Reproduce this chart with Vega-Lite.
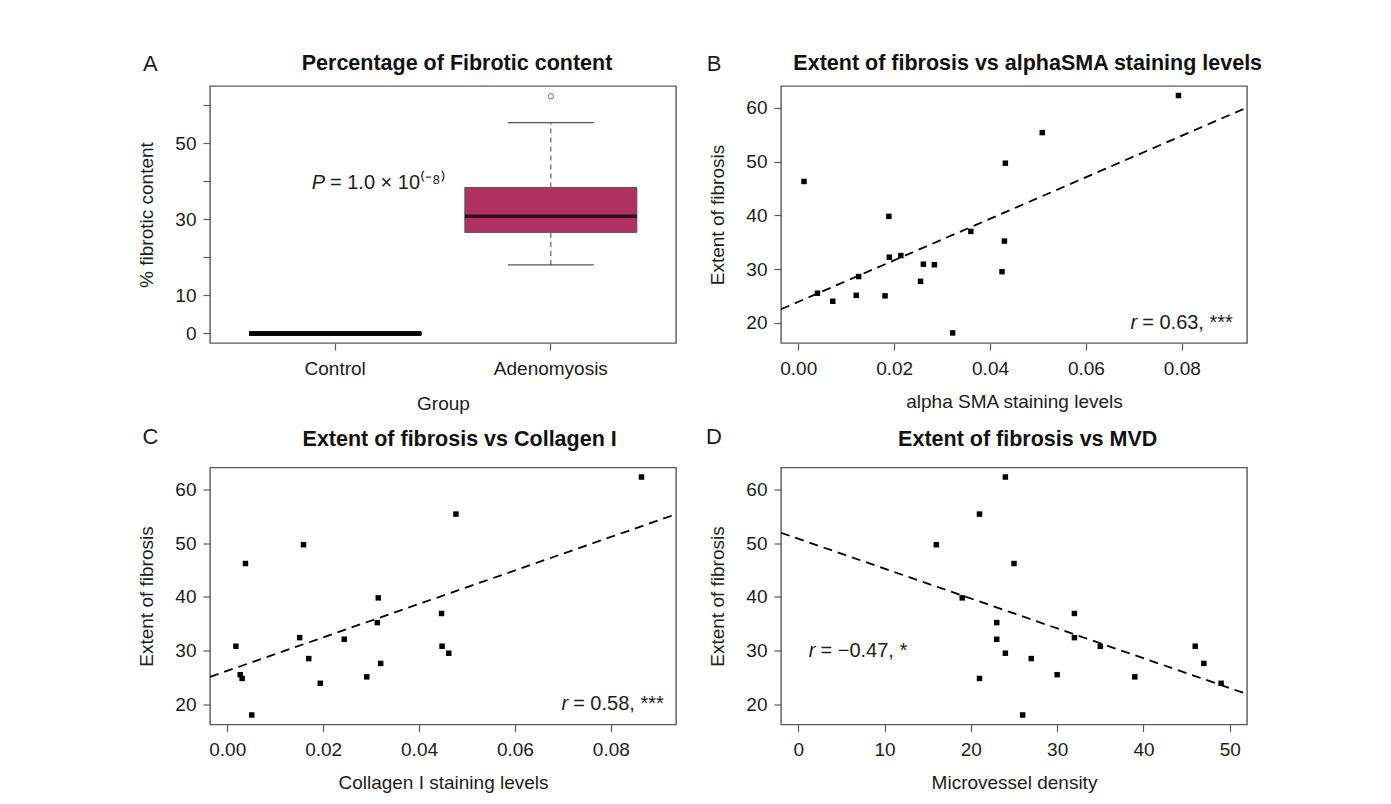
{
  "$schema": "https://vega.github.io/schema/vega-lite/v6.json",
  "background": "white",
  "padding": {"left": 137, "top": 52, "right": 0, "bottom": 0},
  "autosize": {"type": "pad"},
  "config": {
    "font": "Liberation Sans",
    "view": {"stroke": "#5a5a5a", "strokeWidth": 1.4},
    "axis": {"domain": false, "grid": false, "ticks": true, "tickColor": "#5a5a5a", "tickWidth": 1.2, "tickSize": 7, "labelFont": "Liberation Sans", "labelFontSize": 19, "labelColor": "#1c1c1c", "labelPadding": 7, "labelFlush": false, "labelOverlap": false, "titleFont": "Liberation Sans", "titleFontSize": 19, "titleFontWeight": "normal", "titleColor": "#1c1c1c", "zindex": 1},
    "axisX": {"labelPadding": 9},
    "text": {"font": "Liberation Sans", "fontSize": 20, "color": "#1c1c1c"}
  },
  "datasets": {
    "fibrotic": [
      {"group": "Control", "pct": 0}, {"group": "Control", "pct": 0}, {"group": "Control", "pct": 0}, {"group": "Control", "pct": 0}, {"group": "Control", "pct": 0},
      {"group": "Control", "pct": 0}, {"group": "Control", "pct": 0}, {"group": "Control", "pct": 0}, {"group": "Control", "pct": 0}, {"group": "Control", "pct": 0},
      {"group": "Adenomyosis", "pct": 62.3}, {"group": "Adenomyosis", "pct": 55.4}, {"group": "Adenomyosis", "pct": 49.7}, {"group": "Adenomyosis", "pct": 46.2},
      {"group": "Adenomyosis", "pct": 39.8}, {"group": "Adenomyosis", "pct": 36.9}, {"group": "Adenomyosis", "pct": 35.2}, {"group": "Adenomyosis", "pct": 32.4},
      {"group": "Adenomyosis", "pct": 32.1}, {"group": "Adenomyosis", "pct": 30.8}, {"group": "Adenomyosis", "pct": 30.8}, {"group": "Adenomyosis", "pct": 29.5},
      {"group": "Adenomyosis", "pct": 28.5}, {"group": "Adenomyosis", "pct": 27.6}, {"group": "Adenomyosis", "pct": 25.5}, {"group": "Adenomyosis", "pct": 25.1},
      {"group": "Adenomyosis", "pct": 24.8}, {"group": "Adenomyosis", "pct": 23.9}, {"group": "Adenomyosis", "pct": 18.0}
    ],
    "sma": [
      {"sma": 0.0793, "fib": 62.3}, {"sma": 0.0509, "fib": 55.4}, {"sma": 0.0432, "fib": 49.7}, {"sma": 0.0012, "fib": 46.3},
      {"sma": 0.0189, "fib": 39.8}, {"sma": 0.0360, "fib": 37.0}, {"sma": 0.0430, "fib": 35.2}, {"sma": 0.0190, "fib": 32.2},
      {"sma": 0.0214, "fib": 32.5}, {"sma": 0.0261, "fib": 30.9}, {"sma": 0.0284, "fib": 30.8}, {"sma": 0.0126, "fib": 28.6},
      {"sma": 0.0425, "fib": 29.5}, {"sma": 0.0255, "fib": 27.7}, {"sma": 0.0040, "fib": 25.5}, {"sma": 0.0121, "fib": 25.1},
      {"sma": 0.0181, "fib": 25.0}, {"sma": 0.0072, "fib": 24.0}, {"sma": 0.0322, "fib": 18.1}
    ],
    "col": [
      {"col": 0.0864, "fib": 62.3}, {"col": 0.0477, "fib": 55.4}, {"col": 0.0159, "fib": 49.7}, {"col": 0.0038, "fib": 46.2},
      {"col": 0.0315, "fib": 39.8}, {"col": 0.0447, "fib": 36.9}, {"col": 0.0313, "fib": 35.2}, {"col": 0.0151, "fib": 32.4},
      {"col": 0.0244, "fib": 32.1}, {"col": 0.0018, "fib": 30.8}, {"col": 0.0448, "fib": 30.8}, {"col": 0.0462, "fib": 29.5},
      {"col": 0.0170, "fib": 28.5}, {"col": 0.0320, "fib": 27.6}, {"col": 0.0027, "fib": 25.5}, {"col": 0.0031, "fib": 24.8},
      {"col": 0.0291, "fib": 25.1}, {"col": 0.0194, "fib": 23.9}, {"col": 0.0051, "fib": 18.0}
    ],
    "mvd": [
      {"mvd": 24, "fib": 62.3}, {"mvd": 21, "fib": 55.4}, {"mvd": 16, "fib": 49.7}, {"mvd": 25, "fib": 46.2},
      {"mvd": 19, "fib": 39.8}, {"mvd": 32, "fib": 36.9}, {"mvd": 23, "fib": 35.2}, {"mvd": 23, "fib": 32.1},
      {"mvd": 32, "fib": 32.4}, {"mvd": 35, "fib": 30.8}, {"mvd": 46, "fib": 30.8}, {"mvd": 24, "fib": 29.5},
      {"mvd": 27, "fib": 28.5}, {"mvd": 47, "fib": 27.6}, {"mvd": 30, "fib": 25.5}, {"mvd": 21, "fib": 24.8},
      {"mvd": 39, "fib": 25.1}, {"mvd": 49, "fib": 23.9}, {"mvd": 26, "fib": 18.0}
    ]
  },
  "columns": 2,
  "spacing": {"row": 124.5, "column": 105},
  "bounds": "flush",
  "concat": [
    {
      "width": 466, "height": 257,
      "resolve": {"scale": {"x": "independent"}},
      "layer": [
        {
          "data": {"name": "fibrotic"},
          "layer": [
            {
              "transform": [{"filter": "datum.group == 'Adenomyosis'"}],
              "mark": {"type": "boxplot", "extent": 1.5, "size": 172,
                "box": {"color": "#B03060", "stroke": "#555555", "strokeWidth": 1},
                "median": {"color": "black", "thickness": 3.5},
                "rule": {"color": "#555555", "strokeDash": [5, 4], "strokeWidth": 1.1},
                "ticks": {"color": "#555555", "size": 86, "thickness": 1.2},
                "outliers": {"color": "#333333", "size": 28, "strokeWidth": 1}},
              "encoding": {
                "x": {"field": "group", "type": "nominal",
                  "scale": {"domain": ["Control", "Adenomyosis"], "paddingInner": 0, "paddingOuter": 0.0802},
                  "axis": {"title": "Group", "labelAngle": 0, "titlePadding": 16}},
                "y": {"field": "pct", "type": "quantitative",
                  "scale": {"domain": [-2.5, 65], "nice": false, "zero": false},
                  "axis": {"title": "% fibrotic content", "values": [0, 10, 20, 30, 40, 50, 60],
                    "labelExpr": "datum.value == 20 || datum.value == 40 || datum.value == 60 ? '' : datum.label", "titlePadding": 18}}
              }
            },
            {
              "transform": [{"filter": "datum.group == 'Control'"}],
              "mark": {"type": "tick", "color": "black", "size": 172, "thickness": 3.5, "opacity": 1},
              "encoding": {
                "x": {"field": "group", "type": "nominal"},
                "y": {"field": "pct", "type": "quantitative"}
              }
            }
          ]
        },
        {
          "data": {"values": [{}]},
          "layer": [
            {"mark": {"type": "text", "text": "P", "fontStyle": "italic", "align": "right", "baseline": "middle", "fontSize": 20},
             "encoding": {"x": {"datum": 0.953, "type": "quantitative", "scale": {"domain": [0.42, 2.58], "nice": false, "zero": false}, "axis": null},
                          "y": {"datum": 39.5, "type": "quantitative"}}},
            {"mark": {"type": "text", "text": "= 1.0 \u00d7 10\u207d\u207b\u2078\u207e", "align": "left", "baseline": "middle", "fontSize": 20, "dx": 5},
             "encoding": {"x": {"datum": 0.953, "type": "quantitative"},
                          "y": {"datum": 39.5, "type": "quantitative"}}},
            {"mark": {"type": "text", "text": "A", "align": "center", "baseline": "alphabetic", "fontSize": 22},
             "encoding": {"x": {"datum": 0.144, "type": "quantitative"},
                          "y": {"datum": 68.94, "type": "quantitative"}}},
            {"mark": {"type": "text", "text": "Percentage of Fibrotic content", "align": "center", "baseline": "alphabetic", "fontSize": 21.5, "fontWeight": "bold", "color": "#111111"},
             "encoding": {"x": {"datum": 1.565, "type": "quantitative"},
                          "y": {"datum": 69.12, "type": "quantitative"}}}
          ]
        }
      ]
    },
    {
      "width": 466, "height": 257,
      "layer": [
        {
          "data": {"name": "sma"},
          "mark": {"type": "square", "size": 30, "color": "black", "opacity": 1},
          "encoding": {
            "x": {"field": "sma", "type": "quantitative",
              "scale": {"domain": [-0.0036, 0.0936], "nice": false, "zero": false},
              "axis": {"title": "alpha SMA staining levels", "values": [0, 0.02, 0.04, 0.06, 0.08], "format": ".2f", "titlePadding": 14}},
            "y": {"field": "fib", "type": "quantitative",
              "scale": {"domain": [16.228, 64.072], "nice": false, "zero": false},
              "axis": {"title": "Extent of fibrosis", "values": [20, 30, 40, 50, 60], "titlePadding": 18}}
          }
        },
        {
          "data": {"name": "sma"},
          "transform": [{"regression": "fib", "on": "sma", "extent": [-0.0036, 0.0936]}],
          "mark": {"type": "line", "color": "black", "strokeDash": [9, 6], "strokeWidth": 1.8, "clip": true},
          "encoding": {
            "x": {"field": "sma", "type": "quantitative"},
            "y": {"field": "fib", "type": "quantitative"}
          }
        },
        {
          "data": {"values": [{}]},
          "layer": [
            {"mark": {"type": "text", "text": "r", "fontStyle": "italic", "align": "right", "baseline": "middle"},
             "encoding": {"x": {"datum": 0.0707, "type": "quantitative"}, "y": {"datum": 20, "type": "quantitative"}}},
            {"mark": {"type": "text", "text": "= 0.63, ***", "align": "left", "baseline": "middle", "dx": 5},
             "encoding": {"x": {"datum": 0.0707, "type": "quantitative"}, "y": {"datum": 20, "type": "quantitative"}}},
            {"mark": {"type": "text", "text": "B", "align": "center", "baseline": "alphabetic", "fontSize": 22},
             "encoding": {"x": {"datum": -0.01758, "type": "quantitative"}, "y": {"datum": 66.864, "type": "quantitative"}}},
            {"mark": {"type": "text", "text": "Extent of fibrosis vs alphaSMA staining levels", "align": "center", "baseline": "alphabetic", "fontSize": 21.5, "fontWeight": "bold", "color": "#111111"},
             "encoding": {"x": {"datum": 0.04786, "type": "quantitative"}, "y": {"datum": 66.995, "type": "quantitative"}}}
          ]
        }
      ]
    },
    {
      "width": 466, "height": 257,
      "layer": [
        {
          "data": {"name": "col"},
          "mark": {"type": "square", "size": 30, "color": "black", "opacity": 1},
          "encoding": {
            "x": {"field": "col", "type": "quantitative",
              "scale": {"domain": [-0.0036, 0.0936], "nice": false, "zero": false},
              "axis": {"title": "Collagen I staining levels", "values": [0, 0.02, 0.04, 0.06, 0.08], "format": ".2f", "titlePadding": 14}},
            "y": {"field": "fib", "type": "quantitative",
              "scale": {"domain": [16.228, 64.072], "nice": false, "zero": false},
              "axis": {"title": "Extent of fibrosis", "values": [20, 30, 40, 50, 60], "titlePadding": 18}}
          }
        },
        {
          "data": {"name": "col"},
          "transform": [{"regression": "fib", "on": "col", "extent": [-0.0036, 0.0936]}],
          "mark": {"type": "line", "color": "black", "strokeDash": [9, 6], "strokeWidth": 1.8, "clip": true},
          "encoding": {
            "x": {"field": "col", "type": "quantitative"},
            "y": {"field": "fib", "type": "quantitative"}
          }
        },
        {
          "data": {"values": [{}]},
          "layer": [
            {"mark": {"type": "text", "text": "r", "fontStyle": "italic", "align": "right", "baseline": "middle"},
             "encoding": {"x": {"datum": 0.0711, "type": "quantitative"}, "y": {"datum": 20, "type": "quantitative"}}},
            {"mark": {"type": "text", "text": "= 0.58, ***", "align": "left", "baseline": "middle", "dx": 5},
             "encoding": {"x": {"datum": 0.0711, "type": "quantitative"}, "y": {"datum": 20, "type": "quantitative"}}},
            {"mark": {"type": "text", "text": "C", "align": "center", "baseline": "alphabetic", "fontSize": 22},
             "encoding": {"x": {"datum": -0.01601, "type": "quantitative"}, "y": {"datum": 68.447, "type": "quantitative"}}},
            {"mark": {"type": "text", "text": "Extent of fibrosis vs Collagen I", "align": "center", "baseline": "alphabetic", "fontSize": 21.5, "fontWeight": "bold", "color": "#111111"},
             "encoding": {"x": {"datum": 0.04847, "type": "quantitative"}, "y": {"datum": 68.075, "type": "quantitative"}}}
          ]
        }
      ]
    },
    {
      "width": 466, "height": 257,
      "layer": [
        {
          "data": {"name": "mvd"},
          "mark": {"type": "square", "size": 30, "color": "black", "opacity": 1},
          "encoding": {
            "x": {"field": "mvd", "type": "quantitative",
              "scale": {"domain": [-2, 52], "nice": false, "zero": false},
              "axis": {"title": "Microvessel density", "values": [0, 10, 20, 30, 40, 50], "titlePadding": 14}},
            "y": {"field": "fib", "type": "quantitative",
              "scale": {"domain": [16.228, 64.072], "nice": false, "zero": false},
              "axis": {"title": "Extent of fibrosis", "values": [20, 30, 40, 50, 60], "titlePadding": 18}}
          }
        },
        {
          "data": {"name": "mvd"},
          "transform": [{"regression": "fib", "on": "mvd", "extent": [-2, 52]}],
          "mark": {"type": "line", "color": "black", "strokeDash": [9, 6], "strokeWidth": 1.8, "clip": true},
          "encoding": {
            "x": {"field": "mvd", "type": "quantitative"},
            "y": {"field": "fib", "type": "quantitative"}
          }
        },
        {
          "data": {"values": [{}]},
          "layer": [
            {"mark": {"type": "text", "text": "r", "fontStyle": "italic", "align": "right", "baseline": "middle"},
             "encoding": {"x": {"datum": 2.0, "type": "quantitative"}, "y": {"datum": 30, "type": "quantitative"}}},
            {"mark": {"type": "text", "text": "= \u22120.47, *", "align": "left", "baseline": "middle", "dx": 5},
             "encoding": {"x": {"datum": 2.0, "type": "quantitative"}, "y": {"datum": 30, "type": "quantitative"}}},
            {"mark": {"type": "text", "text": "D", "align": "center", "baseline": "alphabetic", "fontSize": 22},
             "encoding": {"x": {"datum": -9.764, "type": "quantitative"}, "y": {"datum": 68.447, "type": "quantitative"}}},
            {"mark": {"type": "text", "text": "Extent of fibrosis vs MVD", "align": "center", "baseline": "alphabetic", "fontSize": 21.5, "fontWeight": "bold", "color": "#111111"},
             "encoding": {"x": {"datum": 26.588, "type": "quantitative"}, "y": {"datum": 68.075, "type": "quantitative"}}}
          ]
        }
      ]
    }
  ]
}
